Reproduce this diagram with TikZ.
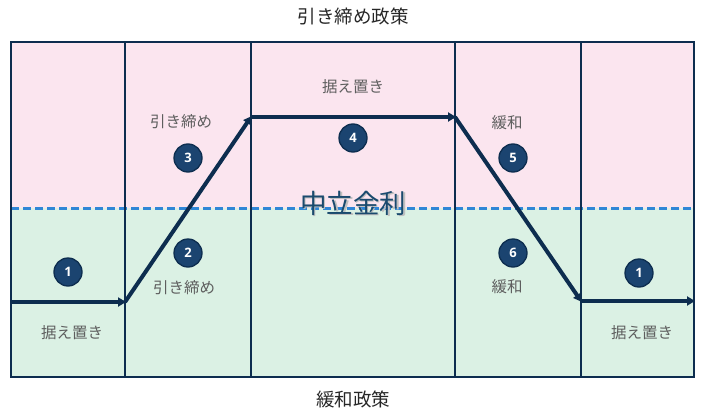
\documentclass[tikz,border=0pt]{standalone}
\usepackage{fontspec}
\setmainfont{Noto Sans CJK JP}
\newfontfamily\numfont{Open Sans}
\usetikzlibrary{arrows.meta}
\definecolor{navy}{HTML}{0D2D4F}
\definecolor{circfill}{HTML}{1B4470}
\definecolor{pinkbg}{HTML}{FBE5EF}
\definecolor{greenbg}{HTML}{DBF1E4}
\definecolor{dashblue}{HTML}{2F86D6}
\definecolor{labgray}{HTML}{5E5E5E}
\definecolor{neutral}{HTML}{1A4A6E}
\tikzset{
  colbox/.style={draw=navy, line width=2.4pt, inner sep=0pt},
  flow/.style={draw=navy, line width=4pt, -{Triangle[length=8pt,width=9pt]}, shorten >=-1pt},
  badge/.style={circle, fill=circfill, draw=navy, line width=1.3pt, minimum size=28pt, inner sep=0pt, text=white, font=\numfont\bfseries\fontsize{13}{13}\selectfont},
  lab/.style={text=labgray, font=\fontsize{15.5}{15.5}\selectfont, inner sep=0pt},
  ttl/.style={text=black!85, font=\fontsize{18.5}{18.5}\selectfont, inner sep=0pt}
}
\begin{document}
\begin{tikzpicture}[x=1pt,y=-1pt]
\useasboundingbox (0,0) rectangle (701,412);
% backgrounds
\fill[pinkbg] (11,42) rectangle (694,208);
\fill[greenbg] (11,208) rectangle (694,377);
% dashed neutral line
\draw[dashblue, line width=3pt, dash pattern=on 8pt off 4pt] (11,208) -- (694,208);
% columns
\node[colbox, minimum width=114pt, minimum height=335pt] (c1) at (68,209.5) {};
\node[colbox, minimum width=126pt, minimum height=335pt] (c2) at (188,209.5) {};
\node[colbox, minimum width=204pt, minimum height=335pt] (c3) at (353,209.5) {};
\node[colbox, minimum width=126pt, minimum height=335pt] (c4) at (518,209.5) {};
\node[colbox, minimum width=113pt, minimum height=335pt] (c5) at (637.5,209.5) {};
% neutral rate text
\node[text=black!25, font=\fontsize{26.5}{26.5}\selectfont, inner sep=0pt] at (354.5,204.5) {中立金利};
\node[text=neutral, font=\fontsize{26.5}{26.5}\selectfont, inner sep=0pt] (neutral) at (353,203) {中立金利};
% flow coordinates
\coordinate (p0) at (11,302);
\coordinate (p1) at (125,302);
\coordinate (p2) at (251,117);
\coordinate (p3) at (455,117);
\coordinate (p4) at (581,301);
\coordinate (p5) at (694,301);
\draw[flow] (p0) -- (p1);
\draw[flow] (p1) -- (p2);
\draw[flow] (p2) -- (p3);
\draw[flow] (p3) -- (p4);
\draw[flow] (p4) -- (p5);
% badges
\node[badge] (b1) at (68,272) {1};
\node[badge] (b2) at (188,253) {2};
\node[badge] (b3) at (188,158) {3};
\node[badge] (b4) at (353,138) {4};
\node[badge] (b5) at (513,158) {5};
\node[badge] (b6) at (513,253) {6};
\node[badge] (b7) at (639,273) {1};
% labels
\node[lab] (l1) at (72,333) {据え置き};
\node[lab] (l2) at (184,288) {引き締め};
\node[lab] (l3) at (181,122) {引き締め};
\node[lab] (l4) at (353,87) {据え置き};
\node[lab] (l5) at (507,123) {緩和};
\node[lab] (l6) at (507,287) {緩和};
\node[lab] (l7) at (642,333) {据え置き};
% titles
\node[ttl] (top) at (353,16) {引き締め政策};
\node[ttl] (bottom) at (353,399) {緩和政策};
\end{tikzpicture}
\end{document}
